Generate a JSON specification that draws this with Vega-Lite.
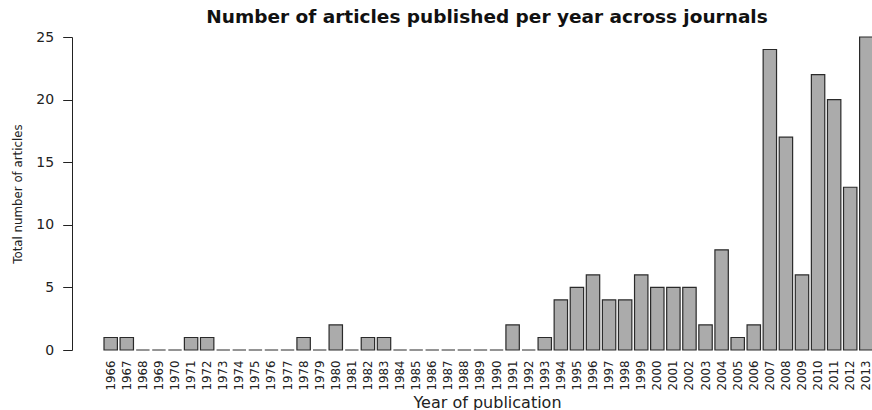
{
  "$schema": "https://vega.github.io/schema/vega-lite/v6.json",
  "width": 800,
  "height": 313,
  "autosize": "none",
  "padding": {"left": 72, "top": 37, "right": 0, "bottom": 60},
  "background": "white",
  "config": {"view": {"stroke": null}, "font": "DejaVu Sans"},
  "title": {
    "text": "Number of articles published per year across journals",
    "font": "DejaVu Sans",
    "fontSize": 18.5,
    "fontWeight": "bold",
    "color": "#111111",
    "anchor": "middle",
    "offset": 4,
    "dx": 15
  },
  "data": {
    "values": [
      {"year": "1966", "n": 1}, {"year": "1967", "n": 1}, {"year": "1968", "n": 0},
      {"year": "1969", "n": 0}, {"year": "1970", "n": 0}, {"year": "1971", "n": 1},
      {"year": "1972", "n": 1}, {"year": "1973", "n": 0}, {"year": "1974", "n": 0},
      {"year": "1975", "n": 0}, {"year": "1976", "n": 0}, {"year": "1977", "n": 0},
      {"year": "1978", "n": 1}, {"year": "1979", "n": 0}, {"year": "1980", "n": 2},
      {"year": "1981", "n": 0}, {"year": "1982", "n": 1}, {"year": "1983", "n": 1},
      {"year": "1984", "n": 0}, {"year": "1985", "n": 0}, {"year": "1986", "n": 0},
      {"year": "1987", "n": 0}, {"year": "1988", "n": 0}, {"year": "1989", "n": 0},
      {"year": "1990", "n": 0}, {"year": "1991", "n": 2}, {"year": "1992", "n": 0},
      {"year": "1993", "n": 1}, {"year": "1994", "n": 4}, {"year": "1995", "n": 5},
      {"year": "1996", "n": 6}, {"year": "1997", "n": 4}, {"year": "1998", "n": 4},
      {"year": "1999", "n": 6}, {"year": "2000", "n": 5}, {"year": "2001", "n": 5},
      {"year": "2002", "n": 5}, {"year": "2003", "n": 2}, {"year": "2004", "n": 8},
      {"year": "2005", "n": 1}, {"year": "2006", "n": 2}, {"year": "2007", "n": 24},
      {"year": "2008", "n": 17}, {"year": "2009", "n": 6}, {"year": "2010", "n": 22},
      {"year": "2011", "n": 20}, {"year": "2012", "n": 13}, {"year": "2013", "n": 25}
    ]
  },
  "mark": {"type": "bar", "fill": "#ababab", "stroke": "#2a2a2a", "strokeWidth": 1.2},
  "encoding": {
    "x": {
      "field": "year",
      "type": "ordinal",
      "sort": null,
      "scale": {"range": [32, 801], "paddingInner": 0.1667, "paddingOuter": 0},
      "axis": {
        "title": "Year of publication",
        "titleFont": "DejaVu Sans",
        "titleFontSize": 16,
        "titleFontWeight": "normal",
        "titleColor": "#222222",
        "titleX": 415,
        "titleY": 57,
        "titleBaseline": "alphabetic",
        "labelAngle": -90,
        "labelFont": "DejaVu Sans",
        "labelFontSize": 11.8,
        "labelColor": "#222222",
        "labelPadding": 10,
        "domain": false,
        "ticks": false
      }
    },
    "y": {
      "field": "n",
      "type": "quantitative",
      "scale": {"domain": [0, 25], "nice": false},
      "axis": {
        "title": "Total number of articles",
        "titleFont": "DejaVu Sans",
        "titleFontSize": 11.8,
        "titleFontWeight": "normal",
        "titleColor": "#222222",
        "titleX": -55,
        "titleY": 156.5,
        "titleBaseline": "middle",
        "titleAngle": -90,
        "values": [0, 5, 10, 15, 20, 25],
        "labelFont": "DejaVu Sans",
        "labelFontSize": 14,
        "labelColor": "#222222",
        "labelPadding": 9,
        "tickSize": 9.3,
        "tickColor": "#222222",
        "domainColor": "#222222",
        "grid": false
      }
    }
  }
}
